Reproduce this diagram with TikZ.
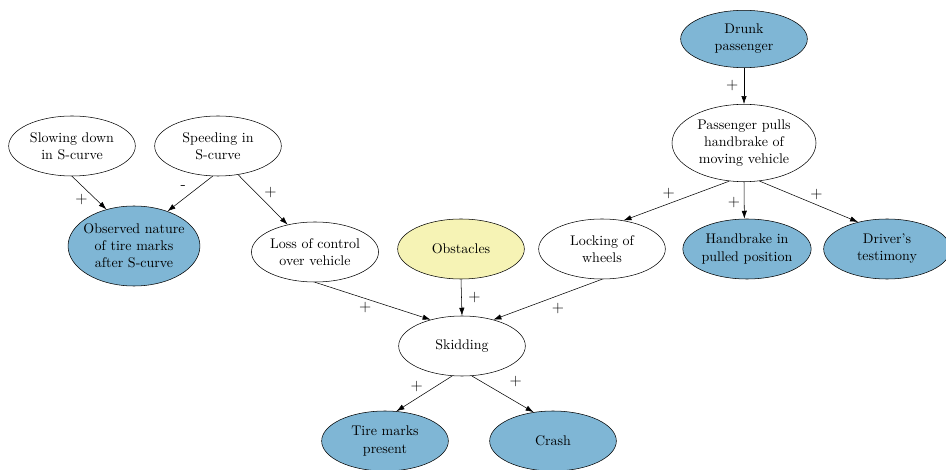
\documentclass[tikz,border=0pt]{standalone}
\usepackage{tikz}
\usetikzlibrary{shapes.geometric,arrows.meta}

\definecolor{obsblue}{RGB}{127,182,213}
\definecolor{hypyellow}{RGB}{246,243,181}

\tikzset{
  var/.style={ellipse,draw,thin,fill=white,align=center,inner sep=0pt,
    minimum width=95pt,minimum height=45pt,font=\fontsize{10.5}{12.8}\selectfont},
  evid/.style={var,fill=obsblue},
  hyp/.style={var,fill=hypyellow},
  sign/.style={font=\large,inner sep=1pt}
}

\begin{document}
\begin{tikzpicture}[x=0.75pt,y=-0.75pt]
  \useasboundingbox (0,0) rectangle (946,470);

  \node[var]  (Slow)    at (72,146)  {Slowing down\\in S-curve};
  \node[var]  (Speed)   at (218,146) {Speeding in\\S-curve};
  \node[evid,minimum height=60pt,inner xsep=-3pt] (Marks) at (134,246) {Observed nature\\of tire marks\\after S-curve};
  \node[var]  (Loss)    at (315,252) {Loss of control\\over vehicle};
  \node[hyp]  (Obst)    at (461,249) {Obstacles};
  \node[var]  (Lock)    at (602,249) {Locking of\\wheels};
  \node[evid] (Brake)   at (747,249) {Handbrake in\\pulled position};
  \node[evid] (Driver)  at (887,249) {Driver's\\testimony};
  \node[evid,minimum height=43pt] (Drunk) at (744,39) {Drunk\\passenger};
  \node[var,minimum width=108pt,minimum height=58pt] (Pulls) at (744,143) {Passenger pulls\\handbrake of\\moving vehicle};
  \node[var]  (Skid)    at (462,346) {Skidding};
  \node[evid] (Tire)    at (385,441) {Tire marks\\present};
  \node[evid] (Crash)   at (553,441) {Crash};

  \path[-{Latex[length=6pt,width=4pt]},thin]
    (Slow.south)  edge node[sign,below left]{$+$}  (Marks.127)
    (Speed.-100)  edge node[sign,above left=2pt]{-} (Marks.46)
    (Speed.-55)   edge node[sign,above right]{$+$} (Loss.135)
    (Loss.south)  edge node[sign,below left]{$+$}  (Skid.140)
    (Obst.south)  edge node[sign,right=4pt]{$+$}   (Skid.north)
    (Lock.south)  edge node[sign,below right=2pt]{$+$} (Skid.40)
    (Drunk.south) edge node[sign,left=3pt]{$+$}    (Pulls.north)
    (Pulls.-111)  edge node[sign,above left]{$+$}  (Lock.53)
    (Pulls.south) edge node[sign,left=2pt,pos=0.55]{$+$} (Brake.95)
    (Pulls.-68)   edge node[sign,above right]{$+$} (Driver.137)
    (Skid.-108)   edge node[sign,above left]{$+$}  (Tire.69)
    (Skid.-72)    edge node[sign,above right=4pt]{$+$} (Crash.124);
\end{tikzpicture}
\end{document}
